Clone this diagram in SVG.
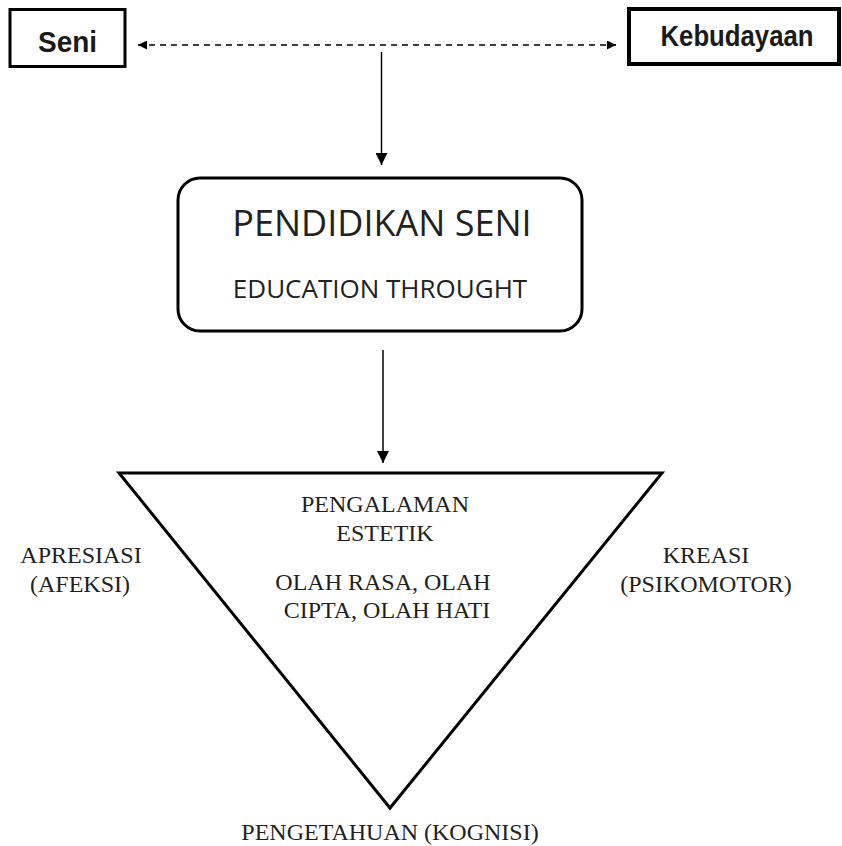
<svg xmlns="http://www.w3.org/2000/svg" width="842" height="846" viewBox="0 0 842 846">
<style>
.box{fill:#fff;stroke:#000;}
.bold{font-family:"Liberation Sans","Open Sans",sans-serif;font-weight:bold;fill:#1a1a1a;text-anchor:middle;}
.sans{font-family:"Open Sans","Liberation Sans",sans-serif;fill:#222;text-anchor:middle;}
.serif{font-family:"Liberation Serif","Times New Roman",serif;font-size:24px;fill:#231f20;text-anchor:middle;}
.conn{stroke:#000;fill:none;}
</style>
<defs>
<marker id="ah" markerWidth="12" markerHeight="12" refX="12" refY="6" orient="auto" markerUnits="userSpaceOnUse">
<path d="M0,0 L12,6 L0,12 Z" fill="#000"/>
</marker>
<marker id="ahs" markerWidth="9" markerHeight="9" refX="9" refY="4.5" orient="auto-start-reverse" markerUnits="userSpaceOnUse">
<path d="M0,0 L9,4.5 L0,9 Z" fill="#000"/>
</marker>
</defs>
<g id="connectors">
<line class="conn" x1="138" y1="45" x2="616" y2="45" stroke-width="1.6" stroke-dasharray="6,5" marker-start="url(#ahs)" marker-end="url(#ahs)"/>
<line class="conn" x1="381.5" y1="52" x2="381.5" y2="165" stroke-width="1.5" marker-end="url(#ah)"/>
<line class="conn" x1="383" y1="350" x2="383" y2="463" stroke-width="1.5" marker-end="url(#ah)"/>
</g>
<g id="seni">
<rect class="box" x="10" y="9.5" width="115" height="57" stroke-width="3"/>
<text class="bold" x="67.5" y="52" font-size="30" textLength="59" lengthAdjust="spacingAndGlyphs">Seni</text>
</g>
<g id="kebudayaan">
<rect class="box" x="629" y="9" width="210" height="55" stroke-width="4"/>
<text class="bold" x="737" y="46" font-size="29" textLength="153" lengthAdjust="spacingAndGlyphs">Kebudayaan</text>
</g>
<g id="pendidikan-seni">
<rect class="box" x="178" y="178" width="404" height="153" rx="22" ry="22" stroke-width="3"/>
<text class="sans" x="382" y="236" font-size="36">PENDIDIKAN SENI</text>
<text class="sans" x="380" y="298" font-size="26">EDUCATION THROUGHT</text>
</g>
<g id="segitiga">
<path d="M119,473 L662,473 L390,808 Z" fill="#fff" stroke="#000" stroke-width="3" stroke-linejoin="miter"/>
<text class="serif" x="385" y="512">PENGALAMAN</text>
<text class="serif" x="385" y="541">ESTETIK</text>
<text class="serif" x="383" y="590">OLAH RASA, OLAH</text>
<text class="serif" x="387" y="618">CIPTA, OLAH HATI</text>
</g>
<g id="apresiasi">
<text class="serif" x="81" y="563">APRESIASI</text>
<text class="serif" x="80" y="592">(AFEKSI)</text>
</g>
<g id="kreasi">
<text class="serif" x="706" y="563">KREASI</text>
<text class="serif" x="706" y="592">(PSIKOMOTOR)</text>
</g>
<g id="pengetahuan">
<text class="serif" x="390" y="840">PENGETAHUAN (KOGNISI)</text>
</g>
</svg>
